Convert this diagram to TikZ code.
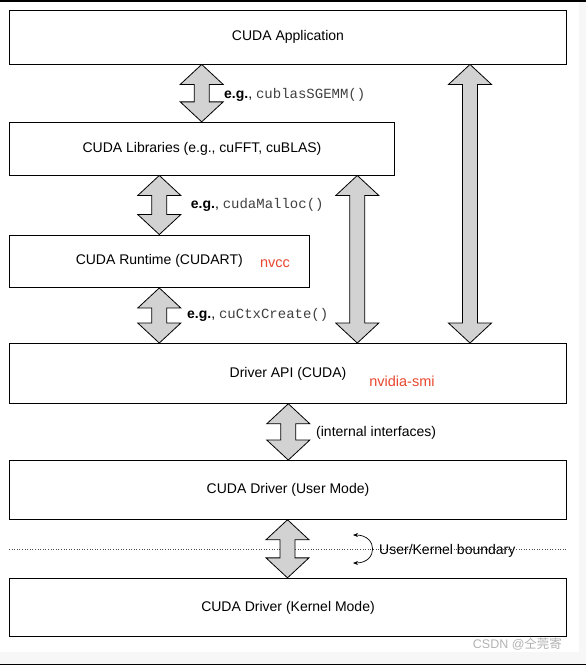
\documentclass[tikz,border=0pt]{standalone}
\usepackage{fontspec}
\setmainfont{Liberation Sans}
\setmonofont{Liberation Mono}
\newfontfamily\cjk{Noto Sans CJK SC}
\usetikzlibrary{arrows.meta,calc}
\definecolor{arrowgray}{RGB}{210,210,210}
\definecolor{toolred}{RGB}{232,72,46}

\begin{document}
\begin{tikzpicture}[x=1pt,y=-1pt,
	box/.style={draw=black,line width=0.9pt,fill=white,inner sep=0pt,font=\fontsize{14}{17}\selectfont},
	note/.style={anchor=west,inner sep=0pt,font=\fontsize{14}{17}\selectfont},
	tool/.style={text=toolred,inner sep=0pt,font=\fontsize{14.5}{17}\selectfont},
	blockarrow/.style={draw=black,line width=0.8pt,fill=arrowgray,line join=miter}]

\useasboundingbox (0,0) rectangle (586,665);
\fill[black!3] (0,652) rectangle (586,663.5);
\fill[black!3] (579,0) rectangle (586,663.5);
\fill[black] (0,0) rectangle (586,1.5);
\fill[black] (0,663.5) rectangle (586,665);

\begin{scope}[every node/.style={box}]
	\node[minimum width=557pt,minimum height=53.5pt] (app) at (288,37.25) {CUDA Application};
	\node[minimum width=385pt,minimum height=52.7pt] (lib) at (202,148.65) {CUDA Libraries (e.g., cuFFT, cuBLAS)};
	\node[minimum width=299.5pt,minimum height=52.5pt] (rt) at (159.25,261.25) {CUDA Runtime (CUDART)};
	\node[minimum width=557pt,minimum height=59.8pt] (drv) at (288,373.4) {Driver API (CUDA)};
	\node[minimum width=557pt,minimum height=58.8pt] (user) at (288,489.9) {CUDA Driver (User Mode)};
	\node[minimum width=557pt,minimum height=58.4pt] (kern) at (288,607.5) {CUDA Driver (Kernel Mode)};
\end{scope}

\node[tool] (nvcc) at (275,264) {nvcc};
\node[tool] (smi) at (402,381) {nvidia-smi};

\draw[black!70,line width=0.6pt,dotted] ($(user.south west)!.5!(kern.north west)$) -- ($(user.south east)!.5!(kern.north east)$);

\foreach \a/\b/\x in {app/lib/201.7, lib/rt/159.3, rt/drv/159.3, lib/drv/357.3, app/drv/470, drv/user/288.3, user/kern/287.5}
	\draw[blockarrow] (\a.south -| \x,0) -- ++(-21.5,20) -- ++(14,0)
		|- ($(\b.north -| \x,0)+(-7.5,-20)$) -- ++(-14,0) -- (\b.north -| \x,0)
		-- ++(21.5,-20) -- ++(-14,0) |- ($(\a.south -| \x,0)+(7.5,20)$) -- ++(14,0) -- cycle;

\node[note] (eg1) at (224,95) {\textbf{e.g.}, {\ttfamily\color{black!75}\fontsize{14}{16}\selectfont cublasSGEMM()}};
\node[note] (eg2) at (190.7,205) {\textbf{e.g.}, {\ttfamily\color{black!75}\fontsize{14}{16}\selectfont cudaMalloc()}};
\node[note] (eg3) at (187,315) {\textbf{e.g.}, {\ttfamily\color{black!75}\fontsize{14}{16}\selectfont cuCtxCreate()}};
\node[note] (intf) at (316,432.7) {(internal interfaces)};

\coordinate (bup) at (353,535);
\coordinate (bdn) at (353,563);
\draw[{Stealth[length=5pt,width=4pt]}-{Stealth[length=5pt,width=4pt]},line width=0.7pt] (bup) to[out=0,in=0,looseness=2.3] (bdn);
\node[note] (bound) at (379,550.7) {User/Kernel boundary};

\node[anchor=west,inner sep=0pt,text=black!30,font=\fontsize{12.5}{15}\selectfont] (mark) at (472.7,644) {CSDN @{\cjk 仝莞寄}};

\end{tikzpicture}
\end{document}
